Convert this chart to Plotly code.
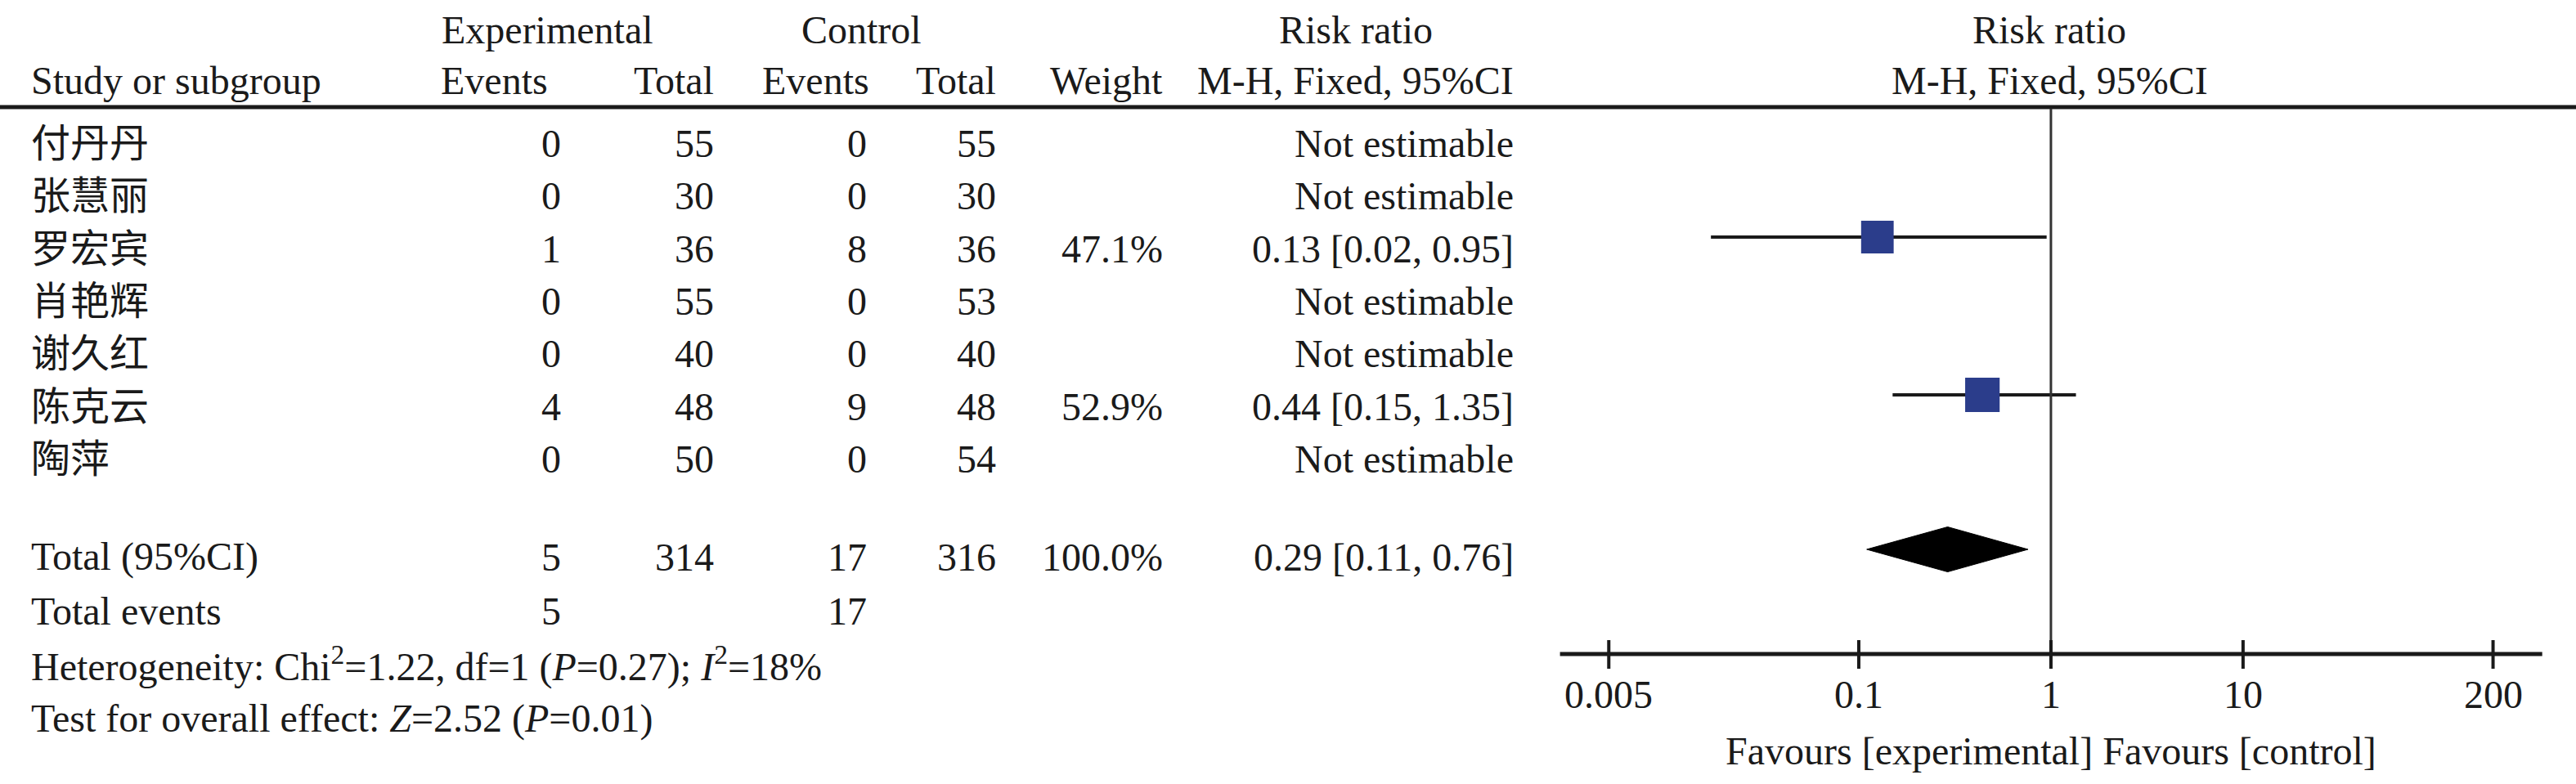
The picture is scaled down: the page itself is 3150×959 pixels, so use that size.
import math
import plotly.graph_objects as go

# study rows
studies = ['付丹丹', '张慧丽', '罗宏宾', '肖艳辉', '谢久红', '陈克云', '陶萍']
exp_events = [0, 0, 1, 0, 0, 4, 0]
exp_total = [55, 30, 36, 55, 40, 48, 50]
ctl_events = [0, 0, 8, 0, 0, 9, 0]
ctl_total = [55, 30, 36, 53, 40, 48, 54]
weight_text = ['', '', '47.1%', '', '', '52.9%', '']
rr_text = ['Not estimable', 'Not estimable', '0.13 [0.02, 0.95]', 'Not estimable',
           'Not estimable', '0.44 [0.15, 1.35]', 'Not estimable']
weights = [None, None, 47.1, None, None, 52.9, None]
rr = [None, None, 0.125, None, None, 0.44, None]
rr_lo = [None, None, 0.017, None, None, 0.15, None]
rr_hi = [None, None, 0.95, None, None, 1.35, None]

# pooled
tot_exp_events, tot_exp = 5, 314
tot_ctl_events, tot_ctl = 17, 316
tot_weight = '100.0%'
pooled_text = '0.29 [0.11, 0.76]'
pooled = 0.29
pooled_lo = 0.11
pooled_hi = 0.76

het_text = 'Heterogeneity: Chi<sup>2</sup>=1.22, df=1 (<i>P</i>=0.27); <i>I</i><sup>2</sup>=18%'
effect_text = 'Test for overall effect: <i>Z</i>=2.52 (<i>P</i>=0.01)'

tick_vals = [0.005, 0.1, 1, 10, 200]
tick_text = ['0.005', '0.1', '1', '10', '200']

W, H = 3150, 959
FONT = 'Liberation Serif, Times New Roman, Noto Sans CJK SC, serif'
FS = 48
INK = '#1a1a1a'

# layout positions (pixels)
row_y = [175, 239, 304, 368, 432, 497, 561]
total_y, events_y, het_y, effect_y = 681, 747, 812, 879
hdr1_y, hdr2_y = 36, 98
rule_y = 131
axis_y = 800
x_lo_log, x_hi_log = -2.555, 2.557

fig = go.Figure()

anns = []


def txt(x, y, s, anchor='left', xref='paper', size=FS):
    if xref == 'paper':
        x = x / W
    else:
        x = math.log10(x)
    anns.append(dict(x=x, y=y, xref=xref, yref='y', text=s, showarrow=False,
                     xanchor=anchor, yanchor='middle',
                     font=dict(family=FONT, size=size, color=INK)))


# headers
txt(669, hdr1_y, 'Experimental', 'center')
txt(1053, hdr1_y, 'Control', 'center')
txt(1658, hdr1_y, 'Risk ratio', 'center')
txt(2506, hdr1_y, 'Risk ratio', 'center')
txt(36, hdr2_y, 'Study or subgroup')
txt(604, hdr2_y, 'Events', 'center')
txt(875, hdr2_y, 'Total', 'right')
txt(997, hdr2_y, 'Events', 'center')
txt(1220, hdr2_y, 'Total', 'right')
txt(1424, hdr2_y, 'Weight', 'right')
txt(1853, hdr2_y, 'M-H, Fixed, 95%CI', 'right')
txt(2506, hdr2_y, 'M-H, Fixed, 95%CI', 'center')

# study rows
for i, name in enumerate(studies):
    y = row_y[i]
    txt(36, y, name)
    txt(688, y, str(exp_events[i]), 'right')
    txt(875, y, str(exp_total[i]), 'right')
    txt(1062, y, str(ctl_events[i]), 'right')
    txt(1220, y, str(ctl_total[i]), 'right')
    if weight_text[i]:
        txt(1424, y, weight_text[i], 'right')
    txt(1853, y, rr_text[i], 'right')

# totals
txt(36, total_y, 'Total (95%CI)')
txt(688, total_y, str(tot_exp_events), 'right')
txt(875, total_y, str(tot_exp), 'right')
txt(1062, total_y, str(tot_ctl_events), 'right')
txt(1220, total_y, str(tot_ctl), 'right')
txt(1424, total_y, tot_weight, 'right')
txt(1853, total_y, pooled_text, 'right')
txt(36, events_y, 'Total events')
txt(688, events_y, str(tot_exp_events), 'right')
txt(1062, events_y, str(tot_ctl_events), 'right')
txt(36, het_y, het_text)
txt(36, effect_y, effect_text)

# axis tick labels + caption
for v, t in zip(tick_vals, tick_text):
    txt(v, 849, t, 'center', xref='x')
txt(1, 918, 'Favours [experimental] Favours [control]', 'center', xref='x')

shapes = [
    # header rule
    dict(type='line', xref='paper', yref='y', x0=0, x1=1, y0=rule_y, y1=rule_y,
         line=dict(color=INK, width=5)),
    # line of no effect
    dict(type='line', xref='x', yref='y', x0=1, x1=1, y0=rule_y + 2, y1=axis_y + 18,
         line=dict(color='#333333', width=3)),
    # x axis line
    dict(type='line', xref='paper', yref='y', x0=1907.6 / W, x1=3108.7 / W, y0=axis_y, y1=axis_y,
         line=dict(color=INK, width=5)),
]
for v in tick_vals:
    shapes.append(dict(type='line', xref='x', yref='y', x0=v, x1=v,
                       y0=axis_y - 17, y1=axis_y + 18, line=dict(color=INK, width=4)))

# study estimates
for i in range(len(studies)):
    if rr[i] is None:
        continue
    y = row_y[i] - 14
    fig.add_trace(go.Scatter(x=[rr_lo[i], rr_hi[i]], y=[y, y], mode='lines',
                             line=dict(color=INK, width=4), hoverinfo='skip'))
    fig.add_trace(go.Scatter(x=[rr[i]], y=[y], mode='markers',
                             marker=dict(symbol='square', size=5.8 * weights[i] ** 0.5,
                                         color='#2b3d8b', line=dict(width=0)),
                             hoverinfo='skip'))

# pooled diamond
dy = 672
half_h = 27.5
fig.add_trace(go.Scatter(x=[pooled_lo, pooled, pooled_hi, pooled, pooled_lo],
                         y=[dy, dy - half_h, dy, dy + half_h, dy],
                         mode='lines', fill='toself', fillcolor='#000000',
                         line=dict(color='#000000', width=1), hoverinfo='skip'))

fig.update_layout(
    width=W, height=H,
    margin=dict(l=0, r=0, t=0, b=0),
    paper_bgcolor='white', plot_bgcolor='rgba(0,0,0,0)',
    showlegend=False,
    xaxis=dict(type='log', range=[x_lo_log, x_hi_log],
               domain=[1907.6 / W, 3108.7 / W], visible=False),
    yaxis=dict(range=[H, 0], domain=[0, 1], visible=False),
    annotations=anns,
    shapes=shapes,
)

# drop the browser's default body margin so the figure sits at the page corner
fig.write_html('out.html', config={'displayModeBar': False},
               post_script="document.body.style.margin='0';")
